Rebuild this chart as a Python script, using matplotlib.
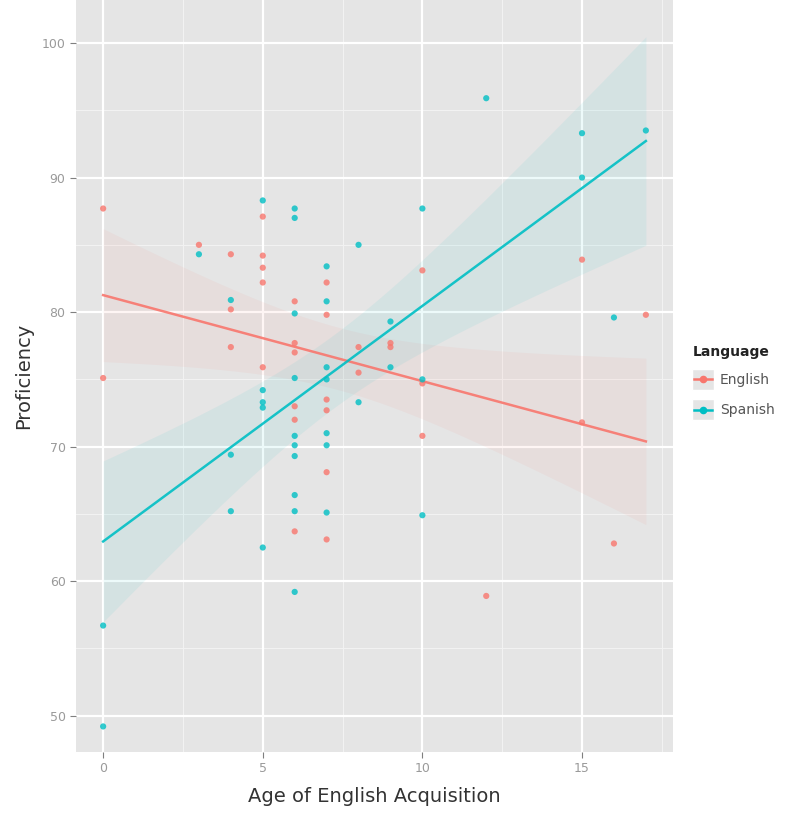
import numpy as np
import matplotlib
matplotlib.use("Agg")
import matplotlib.pyplot as plt
from matplotlib.patches import Rectangle

# values
eng_age = [0, 0, 3, 4, 4, 4, 5, 5, 5, 5, 5, 6, 6, 6, 6, 6, 6,
           7, 7, 7, 7, 7, 7, 8, 8, 9, 9, 10, 10, 10, 12, 15, 15, 16, 17]
eng_prof = [87.7, 75.1, 85.0, 84.3, 80.2, 77.4, 87.1, 84.2, 83.3, 82.2, 75.9,
            80.8, 77.7, 77.0, 73.0, 72.0, 63.7,
            82.2, 79.8, 73.5, 72.7, 68.1, 63.1, 77.4, 75.5, 77.7, 77.4,
            83.1, 74.7, 70.8, 58.9, 83.9, 71.8, 62.8, 79.8]

spa_age = [0, 0, 3, 4, 4, 4, 5, 5, 5, 5, 5, 6, 6, 6, 6, 6, 6, 6, 6, 6, 6,
           7, 7, 7, 7, 7, 7, 7, 8, 8, 9, 9, 10, 10, 10, 12, 15, 15, 16, 17]
spa_prof = [56.7, 49.2, 84.3, 80.9, 69.4, 65.2, 88.3, 74.2, 73.3, 72.9, 62.5,
            87.7, 87.0, 79.9, 75.1, 70.8, 70.1, 69.3, 66.4, 65.2, 59.2,
            83.4, 80.8, 75.9, 75.0, 71.0, 70.1, 65.1, 85.0, 73.3, 79.3, 75.9,
            87.7, 75.0, 64.9, 95.9, 93.3, 90.0, 79.6, 93.5]

languages = ["English", "Spanish"]
colors = {"English": "#F8766D", "Spanish": "#00BFC4"}
x_ticks = [0, 5, 10, 15]
y_ticks = [50, 60, 70, 80, 90, 100]

fig = plt.figure(figsize=(8, 8.24), dpi=100)
ax = fig.add_axes([76 / 800, 1 - 752 / 824, (673 - 76) / 800, 752 / 824])
ax.set_facecolor("#E5E5E5")

# grid like ggplot2
for v in [2.5, 7.5, 12.5, 17.5]:
    ax.axvline(v, color="#F2F2F2", lw=0.8, zorder=0)
for v in [55, 65, 75, 85, 95]:
    ax.axhline(v, color="#F2F2F2", lw=0.8, zorder=0)
for v in x_ticks:
    ax.axvline(v, color="white", lw=1.6, zorder=0)
for v in y_ticks:
    ax.axhline(v, color="white", lw=1.6, zorder=0)

data = {"English": (np.array(eng_age, float), np.array(eng_prof)),
        "Spanish": (np.array(spa_age, float), np.array(spa_prof))}

for lang in languages:
    x, y = data[lang]
    slope, icpt = np.polyfit(x, y, 1)
    xs = np.linspace(x.min(), x.max(), 80)
    fit = icpt + slope * xs
    n = len(x)
    resid = y - (icpt + slope * x)
    s = np.sqrt(np.sum(resid ** 2) / (n - 2))
    se = s * np.sqrt(1 / n + (xs - x.mean()) ** 2 / np.sum((x - x.mean()) ** 2))
    ax.fill_between(xs, fit - 2.03 * se, fit + 2.03 * se,
                    color=colors[lang], alpha=0.07, lw=0, zorder=1)
    ax.plot(xs, fit, color=colors[lang], lw=1.8, alpha=0.9, zorder=2)
    ax.scatter(x, y, s=20, color=colors[lang], marker="o", alpha=0.8,
               edgecolors="none", zorder=3)

ax.set_xlim(-0.85, 17.85)
ax.set_ylim(47.3, 103.2)
ax.set_xticks(x_ticks)
ax.set_yticks(y_ticks)
ax.tick_params(colors="#7F7F7F", labelcolor="#9A9A9A", labelsize=9, length=4)
for sp in ax.spines.values():
    sp.set_visible(False)

ax.set_xlabel("Age of English Acquisition", fontsize=14, color="#333333", labelpad=8)
ax.set_ylabel("Proficiency", fontsize=14, color="#333333", labelpad=6)

# legend drawn by hand, ggplot style keys
fig.text(693 / 800, 1 - 352 / 824, "Language", fontsize=10, fontweight="bold",
         color="#222222", va="center", ha="left")
kax = fig.add_axes([692 / 800, 1 - 422 / 824, 22 / 800, 56 / 824])
kax.set_xlim(0, 1)
kax.set_ylim(0, 2.5)
kax.axis("off")
for i, lang in enumerate(languages):
    yc = 1.9 - i * 1.35
    kax.add_patch(Rectangle((0.02, yc - 0.47), 0.96, 0.94, facecolor="#E5E5E5",
                            edgecolor="white", lw=1))
    kax.plot([0.08, 0.92], [yc, yc], color=colors[lang], lw=1.8)
    kax.scatter([0.5], [yc], s=20, color=colors[lang], zorder=3)
    fig.text(720 / 800, 1 - (380 + 30 * i) / 824, lang, fontsize=10,
             color="#555555", va="center", ha="left")

fig.savefig("out.png", dpi=100)
